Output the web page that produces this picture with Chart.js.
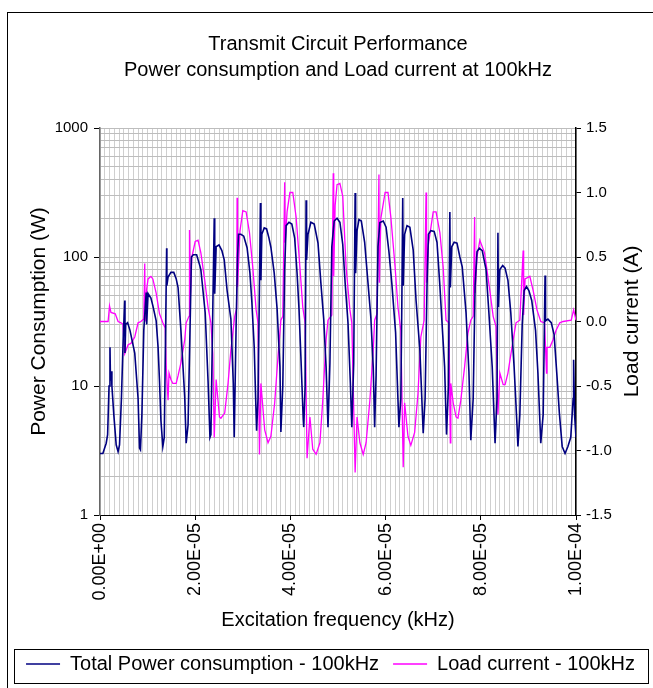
<!DOCTYPE html>
<html lang="en">
<head>
<meta charset="UTF-8">
<title>Transmit Circuit Performance</title>
<script src="https://cdn.jsdelivr.net/npm/chart.js@4"></script>
<style>
    html, body {
        margin: 0;
        padding: 0;
        background: #fff;
    }
    #wrap {
        width: 653px;
        height: 688px;
    }
</style>
</head>
<body>
<div id="wrap"><canvas id="chart" width="653" height="688"></canvas></div>
<script>
const titleLines = ['Transmit Circuit Performance', 'Power consumption and Load current at 100kHz'];
const xTitle = 'Excitation frequency (kHz)';
const leftTitle = 'Power Consumption (W)';
const rightTitle = 'Load current (A)';
const powerLabel = 'Total Power consumption - 100kHz';
const currentLabel = 'Load current - 100kHz';

// axis ticks (x in microseconds, one gridline per microsecond)
const xLabelTicksUs = [0, 20, 40, 60, 80, 100];
const powerTicks = [1, 10, 100, 1000];
const currentTicks = [-1.5, -1, -0.5, 0, 0.5, 1, 1.5];

// Total power (W)
const powerTimeUs = [
    0.0, 0.6, 1.3, 1.6, 1.9, 2.1, 2.2, 2.4, 2.5, 2.9, 3.4, 3.8,
    4.1, 4.5, 4.9, 5.2, 5.25, 5.4, 5.8, 6.3, 7.3, 8.0, 8.3,
    8.5, 8.8, 9.2, 9.7, 9.8, 10.1, 10.7, 11.1, 11.8, 12.2, 12.5, 12.8, 13.2,
    13.5, 13.8, 14.0, 14.05, 14.3, 14.9, 15.5, 16.0, 16.4, 17.0, 17.8, 18.1,
    18.5, 19.0, 19.2, 19.6, 20.3, 21.0, 21.2, 22.1, 22.7, 23.1,
    23.3, 23.7, 24.0, 24.1, 24.4, 25.0, 25.6, 26.1, 26.7, 27.5, 28.0, 28.2,
    28.6, 28.9, 29.1, 29.6, 30.2, 30.9, 31.5, 31.9, 32.4, 32.7, 32.9,
    33.2, 33.5, 33.7, 33.8, 34.0, 34.5, 35.0, 35.5, 35.9, 36.6, 37.2, 37.8, 38.0,
    38.4, 38.8, 39.1, 39.7, 40.3, 40.9, 41.4, 41.8, 42.2, 42.7, 42.8,
    43.1, 43.3, 43.4, 43.7, 44.3, 45.0, 45.8, 46.4, 47.0, 47.5, 47.9,
    48.3, 48.7, 49.2, 49.8, 50.4, 51.0, 51.5, 52.1, 52.6, 52.9,
    53.3, 53.6, 53.7, 54.0, 54.4, 54.9, 55.6, 56.3, 56.9, 57.4, 57.7,
    58.0, 58.4, 58.8, 59.5, 60.1, 60.7, 61.3, 62.1, 62.8,
    63.2, 63.4, 63.6, 63.7, 64.0, 64.5, 65.1, 65.8, 66.4, 67.2, 67.9,
    68.3, 68.7, 69.0, 69.5, 70.2, 70.8, 71.4, 72.0, 72.4, 72.8,
    73.2, 73.5, 73.6, 73.9, 74.4, 75.0, 75.6, 76.1, 76.9, 77.5, 77.9,
    78.4, 78.8, 79.2, 79.7, 80.3, 81.1, 81.7, 82.4, 83.0,
    83.4, 83.6, 83.7, 84.0, 84.6, 85.1, 85.7, 86.3, 87.0, 87.6, 87.8,
    88.2, 88.7, 89.1, 89.6, 90.1, 90.7, 91.5, 92.0, 92.6,
    93.1, 93.3, 93.5, 93.6, 94.1, 94.8, 95.4, 96.0, 96.5, 97.1, 97.7, 98.3, 98.9,
    99.4, 99.5, 99.7, 100
];
const powerW = [
    3.0, 3.0, 3.6, 4.2, 10, 20, 11, 13, 10, 6, 3.5, 3.1,
    3.5, 8, 25, 46, 18, 30, 31, 27, 18, 8, 3.3,
    3.2, 6, 27, 53, 30, 52, 48, 42, 32, 20, 11, 5.4, 3.4,
    4, 30, 117, 60, 70, 76, 76, 68, 58, 27, 8.2, 3.6,
    5, 40, 100, 104, 104, 85, 79, 37, 11, 4,
    4.2, 40, 200, 52, 120, 124, 112, 95, 55, 33, 10.5, 4.0,
    30, 100, 150, 150, 145, 118, 75, 45, 20, 8, 4.5,
    8, 60, 262, 66, 150, 168, 165, 140, 119, 75, 40, 14, 4.4,
    10, 80, 175, 186, 180, 140, 75, 40, 17, 5.5, 4.8,
    10, 275, 95, 150, 186, 180, 128, 63, 33, 14, 4.8,
    15, 120, 190, 200, 186, 125, 63, 31, 10.5, 4.8,
    15, 314, 75, 160, 195, 190, 130, 63, 34, 14, 4.8,
    12, 120, 185, 190, 170, 110, 63, 26, 4.8,
    8, 40, 286, 60, 150, 175, 170, 113, 46, 19, 4.3,
    8, 60, 150, 160, 158, 130, 60, 25, 14, 4.2,
    10, 223, 58, 120, 130, 128, 100, 84, 37, 13, 3.8,
    8, 60, 110, 117, 112, 80, 37, 14, 3.6,
    8, 154, 41, 80, 86, 82, 66, 37, 14, 5, 3.4,
    6, 30, 55, 59, 55, 46, 27, 12.6, 3.6,
    6, 20, 72, 32, 33, 31, 25, 12, 6.2, 3.4, 3.0, 3.4, 4.0,
    8, 16, 6, 4.0
];

// Load current (A)
const currentTimeUs = [
    0.0, 1.7, 2.0, 2.3, 3.2, 3.8, 4.4, 4.8, 5.2, 5.9, 6.5, 7.3, 8.0, 8.6, 9.2,
    9.4, 9.5, 9.8, 10.1, 10.7, 11.1, 11.8, 12.5, 13.2, 13.7,
    13.9, 14.3, 14.5, 14.9, 15.3, 16.0, 16.4, 17.0, 17.8, 18.1, 18.7,
    18.8, 19.0, 19.3, 20.0, 20.6, 21.2, 22.0, 22.7, 23.3,
    23.7, 24.0, 24.4, 25.1, 25.4, 26.2, 26.9, 27.5, 28.3, 28.7,
    28.8, 28.9, 29.4, 30.0, 30.7, 31.4, 32.1, 32.8, 33.2,
    33.5, 33.8, 34.6, 35.3, 35.9, 36.7, 37.4, 38.0, 38.4,
    38.8, 38.9, 39.3, 39.9, 40.5, 41.2, 42.0, 42.6, 43.1,
    43.5, 44.1, 44.7, 45.4, 46.2, 46.8, 47.5, 47.9, 48.7,
    49.0, 49.1, 49.4, 49.8, 50.4, 51.0, 51.7, 52.5, 52.9,
    53.6, 54.0, 54.6, 55.3, 55.9, 56.7, 57.4, 57.7, 58.2,
    58.6, 58.7, 59.0, 59.9, 60.5, 61.1, 62.0, 62.6, 63.2,
    63.7, 64.0, 64.7, 65.3, 66.1, 66.8, 67.4, 68.1,
    68.5, 68.6, 69.0, 70.0, 70.6, 71.4, 72.1, 72.7, 73.3,
    73.6, 73.7, 74.2, 74.8, 75.2, 75.8, 76.6, 77.3, 77.9, 78.4,
    78.7, 78.8, 79.2, 79.8, 80.8, 81.9, 82.6, 83.2,
    83.6, 84.0, 84.7, 85.1, 85.7, 86.8, 87.4, 88.2,
    88.9, 89.0, 89.3, 90.3, 91.0, 91.8, 92.6, 93.4,
    93.8, 93.9, 94.5, 95.2, 95.8, 96.6, 97.3, 99.0, 99.5, 100
];
const currentA = [
    0.0, 0.0, 0.12, 0.07, 0.06, 0.0, -0.01, -0.02, -0.25, -0.18, -0.17, -0.12, -0.01, 0.0, 0.02,
    0.45, 0.0, 0.25, 0.33, 0.35, 0.33, 0.22, 0.06, -0.01, -0.05,
    -0.35, -0.61, -0.4, -0.45, -0.48, -0.48, -0.42, -0.32, -0.14, -0.01, 0.04,
    0.71, 0.2, 0.5, 0.62, 0.63, 0.53, 0.32, 0.11, -0.01,
    -0.25, -0.9, -0.45, -0.74, -0.75, -0.71, -0.48, -0.22, 0.04, 0.1,
    0.96, 0.27, 0.7, 0.86, 0.85, 0.69, 0.42, 0.09, -0.01,
    -1.03, -0.48, -0.84, -0.94, -0.89, -0.63, -0.27, 0.01, 0.04,
    1.08, 0.61, 0.85, 1.0, 1.0, 0.81, 0.42, 0.11, -0.01,
    -1.06, -0.74, -0.99, -1.03, -0.94, -0.61, -0.14, 0.01, 0.05,
    1.15, 0.35, 0.9, 1.06, 1.07, 0.97, 0.42, 0.09, -0.01,
    -1.17, -0.74, -0.94, -1.03, -0.94, -0.61, -0.22, 0.01, 0.06,
    1.14, 0.3, 0.8, 1.0, 1.0, 0.81, 0.42, 0.11, -0.07,
    -1.13, -0.63, -0.89, -0.96, -0.86, -0.56, -0.12, 0.01,
    1.0, 0.3, 0.6, 0.85, 0.85, 0.69, 0.42, 0.01, -0.01,
    -0.94, -0.48, -0.63, -0.74, -0.75, -0.61, -0.35, -0.09, 0.01, 0.04,
    0.81, 0.22, 0.5, 0.63, 0.53, 0.24, 0.04, -0.04,
    -0.72, -0.4, -0.49, -0.49, -0.4, -0.14, -0.01, 0.01,
    0.55, 0.05, 0.33, 0.35, 0.24, 0.09, 0.0, -0.01,
    -0.4, -0.2, -0.2, -0.14, -0.07, -0.01, 0.0, 0.01, 0.09, 0.01
];

function toPoints(timesUs, values) {
    return timesUs.map((t, i) => ({ x: t / 1e6, y: values[i] }));
}

// 2.00E-05 style labels
function sciLabel(v) {
    if (v === 0) return '0.00E+00';
    const parts = v.toExponential(2).split('e');
    const e = parseInt(parts[1], 10);
    return parts[0] + 'E' + (e < 0 ? '-' : '+') + String(Math.abs(e)).padStart(2, '0');
}

const clear = 'rgba(0,0,0,0)';

// outer frame, legend box and right axis title (reads bottom to top like the left one)
const framePlugin = {
    id: 'frame',
    afterDraw(chart) {
        const ctx = chart.ctx;
        const area = chart.chartArea;
        const y1 = chart.scales.y1;
        ctx.save();
        ctx.strokeStyle = '#000';
        ctx.lineWidth = 1;
        ctx.strokeRect(7.5, 12.5, chart.width, chart.height);
        ctx.strokeRect(14.5, 649.5, 634, 34);
        ctx.translate(y1.right - 21, (area.top + area.bottom) / 2);
        ctx.rotate(-Math.PI / 2);
        ctx.font = '21px "Liberation Sans", Arial, sans-serif';
        ctx.fillStyle = '#000';
        ctx.textAlign = 'center';
        ctx.textBaseline = 'middle';
        ctx.fillText(rightTitle, 0, 0);
        ctx.restore();
    }
};

Chart.defaults.font.family = '"Liberation Sans", Arial, sans-serif';
Chart.defaults.color = '#000';

new Chart(document.getElementById('chart'), {
    type: 'line',
    data: {
        datasets: [{
            label: powerLabel,
            data: toPoints(powerTimeUs, powerW),
            yAxisID: 'y',
            borderColor: '#000080',
            backgroundColor: '#000080',
            borderWidth: 1.6,
            pointRadius: 0,
            tension: 0
        }, {
            label: currentLabel,
            data: toPoints(currentTimeUs, currentA),
            yAxisID: 'y1',
            borderColor: '#ff00ff',
            backgroundColor: '#ff00ff',
            borderWidth: 1.3,
            pointRadius: 0,
            tension: 0
        }]
    },
    options: {
        responsive: false,
        animation: false,
        events: [],
        layout: { padding: { top: 12, left: 8, right: 0, bottom: 4 } },
        scales: {
            x: {
                type: 'linear',
                min: 0,
                max: 1e-4,
                afterBuildTicks: axis => {
                    axis.ticks = Array.from({ length: 101 }, (_, i) => ({ value: i / 1e6 }));
                },
                afterFit: axis => { axis.height = 125; },
                ticks: {
                    autoSkip: false,
                    minRotation: 90,
                    maxRotation: 90,
                    padding: 3,
                    font: { size: 18 },
                    callback: (v, i) => xLabelTicksUs.includes(i) ? sciLabel(v) : ''
                },
                grid: {
                    color: '#cfcfcf',
                    tickLength: 5,
                    tickColor: ctx => xLabelTicksUs.includes(ctx.index) ? '#000' : clear
                },
                border: { color: '#000', width: 1 },
                title: {
                    display: true,
                    text: xTitle,
                    font: { size: 20 },
                    padding: { top: 0, bottom: 8 }
                }
            },
            y: {
                type: 'logarithmic',
                position: 'left',
                min: 1,
                max: 1000,
                afterBuildTicks: axis => {
                    const t = [];
                    for (let d = 1; d < 1000; d *= 10) {
                        for (let k = 1; k < 10; k++) t.push({ value: d * k });
                    }
                    t.push({ value: 1000 });
                    axis.ticks = t;
                },
                afterFit: axis => { axis.width = 92; },
                ticks: {
                    autoSkip: false,
                    padding: 6,
                    font: { size: 15 },
                    callback: v => powerTicks.includes(v) ? String(v) : ''
                },
                grid: {
                    color: '#bdbdbd',
                    tickLength: 6,
                    tickColor: ctx => powerTicks.includes(ctx.tick.value) ? '#000' : clear
                },
                border: { color: '#666', width: 1.5 },
                title: {
                    display: true,
                    text: leftTitle,
                    font: { size: 21 },
                    padding: { top: 19, bottom: 0 }
                }
            },
            y1: {
                type: 'linear',
                position: 'right',
                min: -1.5,
                max: 1.5,
                afterBuildTicks: axis => {
                    axis.ticks = currentTicks.map(v => ({ value: v }));
                },
                afterFit: axis => { axis.width = 77; },
                ticks: {
                    padding: 5,
                    font: { size: 15 },
                    callback: v => v.toFixed(1)
                },
                grid: { drawOnChartArea: false, tickLength: 5, color: '#000' },
                border: { color: '#000', width: 1.5 }
            }
        },
        plugins: {
            title: {
                display: true,
                text: titleLines,
                fullSize: false,
                font: { size: 20, weight: 'normal', lineHeight: 1.3 },
                color: '#000',
                padding: { top: 19, bottom: 45 }
            },
            legend: {
                position: 'bottom',
                labels: {
                    usePointStyle: true,
                    pointStyle: 'line',
                    pointStyleWidth: 34,
                    padding: 14,
                    font: { size: 20 },
                    color: '#000'
                }
            },
            tooltip: { enabled: false }
        }
    },
    plugins: [framePlugin]
});
</script>
</body>
</html>
